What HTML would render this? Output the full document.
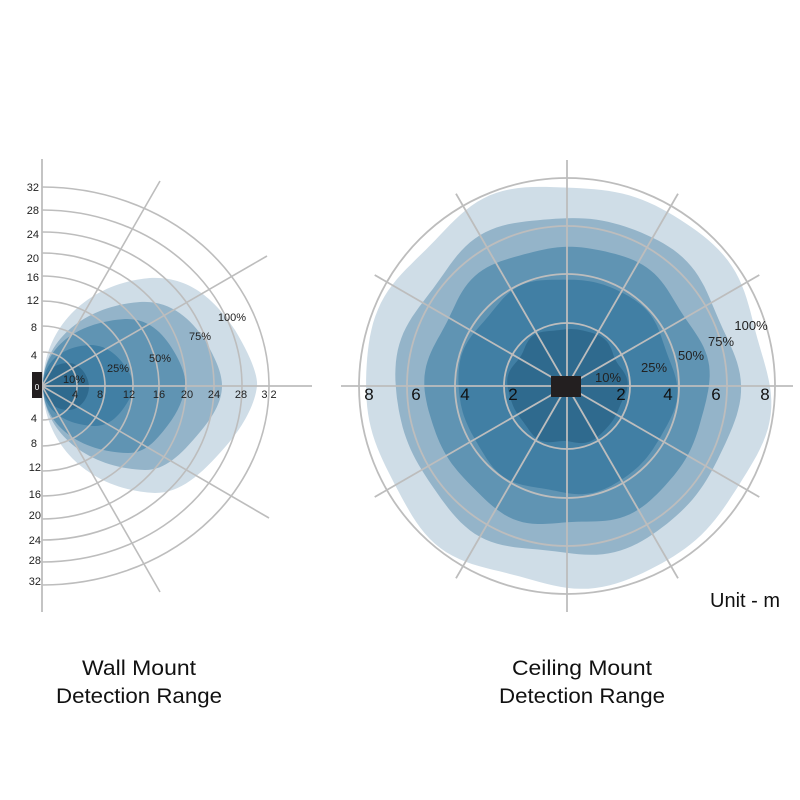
<!DOCTYPE html>
<html><head><meta charset="utf-8"><style>
html,body{margin:0;padding:0;background:#fff;width:800px;height:800px;overflow:hidden}
svg{display:block;font-family:"Liberation Sans",sans-serif}
</style></head><body>
<svg id="s" width="800" height="800" viewBox="0 0 800 800">
<rect width="800" height="800" fill="#fff"/>
<g>
<path fill="#cfdde7" d="M43,386 C43,325 90,283 150,278 C190,276 215,300 235,330 C250,355 258,375 257,386 C255,405 242,428 226,446 C200,476 180,493 155,493 C90,490 43,445 43,386Z"/>
<path fill="#94b4c9" d="M43,386 C43,340 85,306 140,302 C170,300 190,318 205,340 C215,358 222,372 222,386 C222,402 212,418 200,432 C180,456 165,470 145,470 C85,468 43,430 43,386Z"/>
<path fill="#6094b3" d="M43,386 C43,345 80,322 125,319 C150,318 165,335 176,355 C183,368 186,378 185,386 C184,398 178,412 168,425 C155,442 145,453 128,453 C80,452 43,425 43,386Z"/>
<path fill="#417fa4" d="M43,386 C43,360 65,346 90,345 C110,345 122,360 130,374 C134,382 134,390 130,398 C122,412 112,426 95,426 C65,425 43,410 43,386Z"/>
<path fill="#2f6a8e" d="M43,386 C43,372 55,363 68,363 C80,363 88,375 89,386 C89,398 80,410 68,410 C55,410 43,400 43,386Z"/>
</g>
<g id="wallgrid" fill="none" stroke="#bdbdbd" stroke-width="1.6"></g>
<line x1="42" y1="159" x2="42" y2="612" stroke="#bdbdbd" stroke-width="1.8"/>
<line x1="42" y1="386" x2="312" y2="386" stroke="#bdbdbd" stroke-width="1.8"/>
<rect x="32" y="372" width="10" height="26" fill="#231f20"/>
<text x="37" y="390" font-size="8" fill="#fff" text-anchor="middle">0</text>
<g font-size="11" fill="#222" text-anchor="end">
<text x="39" y="191">32</text><text x="39" y="214">28</text><text x="39" y="238">24</text><text x="39" y="262">20</text>
<text x="39" y="281">16</text><text x="39" y="304">12</text><text x="37" y="331">8</text><text x="37" y="359">4</text>
<text x="37" y="422">4</text><text x="37" y="447">8</text><text x="41" y="471">12</text><text x="41" y="498">16</text>
<text x="41" y="519">20</text><text x="41" y="544">24</text><text x="41" y="564">28</text><text x="41" y="585">32</text>
</g>
<g font-size="11" fill="#222" text-anchor="middle">
<text x="75" y="398">4</text><text x="100" y="398">8</text><text x="129" y="398">12</text><text x="159" y="398">16</text>
<text x="187" y="398">20</text><text x="214" y="398">24</text><text x="241" y="398">28</text><text x="269" y="398">3 2</text>
<text x="232" y="321">100%</text><text x="200" y="340">75%</text><text x="160" y="362">50%</text><text x="118" y="372">25%</text><text x="74" y="383">10%</text>
</g>
<g id="ceil"></g>
<g font-size="17" fill="#111" text-anchor="middle">
<text x="369" y="400">8</text><text x="416" y="400">6</text><text x="465" y="400">4</text><text x="513" y="400">2</text>
<text x="621" y="400">2</text><text x="668" y="400">4</text><text x="716" y="400">6</text><text x="765" y="400">8</text>
</g>
<g font-size="13" fill="#222" text-anchor="middle">
<text x="751" y="330">100%</text><text x="721" y="346">75%</text><text x="691" y="360">50%</text><text x="654" y="372">25%</text><text x="608" y="382">10%</text>
</g>
<text x="745" y="607" font-size="20" fill="#111" text-anchor="middle">Unit - m</text>
<g font-size="21" fill="#111" text-anchor="middle">
<text x="139" y="675" textLength="114" lengthAdjust="spacingAndGlyphs">Wall Mount</text>
<text x="139" y="703" textLength="166" lengthAdjust="spacingAndGlyphs">Detection Range</text>
<text x="582" y="675" textLength="140" lengthAdjust="spacingAndGlyphs">Ceiling Mount</text>
<text x="582" y="703" textLength="166" lengthAdjust="spacingAndGlyphs">Detection Range</text>
</g>
</svg>
<script>
var NS="http://www.w3.org/2000/svg";
function el(p,t,a){var e=document.createElementNS(NS,t);for(var k in a)e.setAttribute(k,a[k]);p.appendChild(e);return e;}
var wg=document.getElementById("wallgrid");
var rings=[[35,34],[63,60],[91,85],[117,110],[144,133],[172,154],[200,176],[227,199]];
rings.forEach(function(r){el(wg,"path",{d:"M42,"+(386-r[1])+" A"+r[0]+","+r[1]+" 0 0 1 42,"+(386+r[1])});});
[[160,181],[267,256],[269,518],[160,592]].forEach(function(p){el(wg,"line",{x1:42,y1:386,x2:p[0],y2:p[1]});});
var cg=document.getElementById("ceil");
var cx=567,cy=386;
function blob(R,a1,a2,ph,col){
  var pts=[];for(var i=0;i<=180;i++){var t=i/180*2*Math.PI;
    var r=R+a1*Math.sin(6*t+ph)+a2*Math.sin(9*t+ph*1.7);
    pts.push((cx+r*Math.cos(t)).toFixed(1)+","+(cy+r*Math.sin(t)).toFixed(1));}
  el(cg,"path",{d:"M"+pts.join(" L")+"Z",fill:col});
}
blob(201,3,2,0.3,"#cfdde7");
blob(170,3,1.5,1.1,"#94b4c9");
blob(140,2.5,1.5,2.0,"#6094b3");
blob(108,2,1,0.7,"#417fa4");
blob(58,2,1,1.5,"#2f6a8e");
[63,112,160,208].forEach(function(r){el(cg,"circle",{cx:cx,cy:cy,r:r,fill:"none",stroke:"#bdbdbd","stroke-width":1.8});});
for(var k=0;k<12;k++){var a=k*Math.PI/6;var L=(k%3==0)?226:222;
  el(cg,"line",{x1:cx,y1:cy,x2:(cx+L*Math.cos(a)).toFixed(1),y2:(cy+L*Math.sin(a)).toFixed(1),stroke:"#bdbdbd","stroke-width":1.8});}
el(cg,"rect",{x:551,y:376,width:30,height:21,fill:"#231f20"});
</script>
</body></html>
